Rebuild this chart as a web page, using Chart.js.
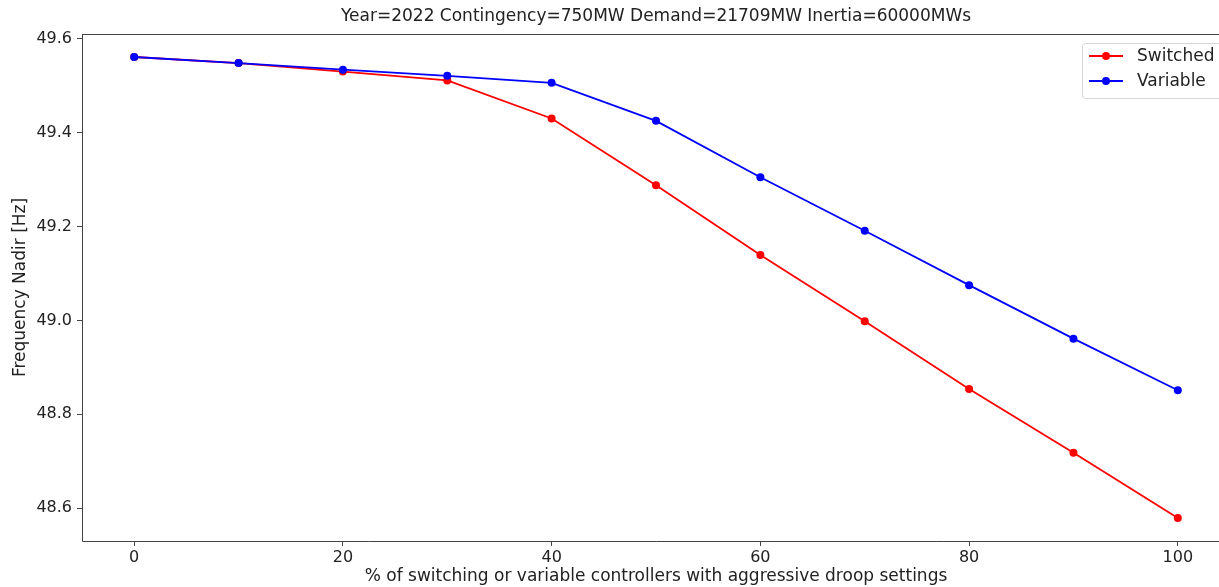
<!DOCTYPE html>
<html>
<head>
<meta charset="utf-8">
<script src="https://cdn.jsdelivr.net/npm/chart.js@4.4.1/dist/chart.umd.min.js"></script>
<style>
  html, body { margin: 0; padding: 0; background: #fff; overflow: hidden; }
  #wrap { width: 1219px; height: 587px; overflow: hidden; }
</style>
</head>
<body>
<div id="wrap"><canvas id="chart" width="1240" height="587"></canvas></div>
<script>
const xValues = [0, 10, 20, 30, 40, 50, 60, 70, 80, 90, 100];
const switched = [49.561, 49.548, 49.530, 49.511, 49.430, 49.288, 49.139, 48.998, 48.854, 48.718, 48.579];
const variable = [49.561, 49.548, 49.534, 49.521, 49.506, 49.425, 49.305, 49.191, 49.075, 48.961, 48.851];
const xTicks = [0, 20, 40, 60, 80, 100];
const yTicks = [48.6, 48.8, 49.0, 49.2, 49.4, 49.6];

const FONT = 'DejaVu Sans';
const INK = '#222';
const AXIS = '#444';

const toPoints = ys => xValues.map((x, i) => ({ x: x, y: ys[i] }));

// spines and the boxed legend, matplotlib style; the canvas is wider than
// the page so the right side of the axes is cut off like in the original
const framePlugin = {
    id: 'frame',
    afterDatasetsDraw(chart) {
        const { ctx, chartArea: a } = chart;
        ctx.save();
        ctx.strokeStyle = AXIS;
        ctx.lineWidth = 1;
        ctx.beginPath();
        ctx.moveTo(a.left, a.top + 0.5);
        ctx.lineTo(a.right, a.top + 0.5);
        ctx.moveTo(a.left + 0.5, a.top);
        ctx.lineTo(a.left + 0.5, a.bottom + 0.5);
        ctx.lineTo(a.right, a.bottom + 0.5);
        ctx.stroke();

        const bx = a.right - 148, by = a.top + 9, bw = 160, bh = 55;
        ctx.fillStyle = 'rgba(255,255,255,0.8)';
        ctx.strokeStyle = '#d6d6d6';
        ctx.beginPath();
        ctx.roundRect(bx + 0.5, by + 0.5, bw, bh, 3);
        ctx.fill();
        ctx.stroke();

        ctx.font = '17px "' + FONT + '"';
        ctx.textBaseline = 'middle';
        chart.data.datasets.forEach((ds, i) => {
            const y = by + 13 + i * 25;
            ctx.strokeStyle = ds.borderColor;
            ctx.lineWidth = 1.8;
            ctx.beginPath();
            ctx.moveTo(bx + 7, y);
            ctx.lineTo(bx + 41, y);
            ctx.stroke();
            ctx.fillStyle = ds.borderColor;
            ctx.beginPath();
            ctx.arc(bx + 24, y, 4, 0, Math.PI * 2);
            ctx.fill();
            ctx.fillStyle = INK;
            ctx.fillText(ds.label, bx + 55, y + 1);
        });
        ctx.restore();
    }
};

new Chart(document.getElementById('chart'), {
    type: 'line',
    data: {
        datasets: [{
            label: 'Switched',
            data: toPoints(switched),
            borderColor: '#ff0000',
            backgroundColor: '#ff0000',
            borderWidth: 1.8,
            pointRadius: 4,
            pointBorderWidth: 0,
            order: 1
        }, {
            label: 'Variable',
            data: toPoints(variable),
            borderColor: '#0000ff',
            backgroundColor: '#0000ff',
            borderWidth: 1.8,
            pointRadius: 4,
            pointBorderWidth: 0,
            order: 0
        }]
    },
    options: {
        responsive: false,
        animation: false,
        layout: { padding: { top: 0, left: 0, right: 10, bottom: 0 } },
        plugins: {
            legend: { display: false },
            tooltip: { enabled: false },
            title: {
                display: true,
                fullSize: false,
                text: 'Year=2022 Contingency=750MW Demand=21709MW Inertia=60000MWs',
                color: INK,
                font: { family: FONT, size: 17, weight: 'normal' },
                padding: { top: 6.6, bottom: 7 }
            }
        },
        scales: {
            x: {
                type: 'linear',
                min: -5,
                max: 105,
                afterFit: s => { s.height = 46; },
                afterBuildTicks: s => { s.ticks = xTicks.map(v => ({ value: v })); },
                ticks: { color: INK, font: { family: FONT, size: 16 }, padding: 2, maxRotation: 0 },
                grid: { drawOnChartArea: false, drawTicks: true, tickLength: 5, color: AXIS },
                border: { display: false },
                title: {
                    display: true,
                    text: '% of switching or variable controllers with aggressive droop settings',
                    color: INK,
                    font: { family: FONT, size: 17 },
                    padding: { top: 0, bottom: 0 }
                }
            },
            y: {
                type: 'linear',
                min: 48.530,
                max: 49.610,
                afterFit: s => { s.width = 82; },
                afterBuildTicks: s => { s.ticks = yTicks.map(v => ({ value: v })); },
                ticks: { color: INK, font: { family: FONT, size: 16 }, padding: 5, callback: v => v.toFixed(1) },
                grid: { drawOnChartArea: false, drawTicks: true, tickLength: 5, color: AXIS },
                border: { display: false },
                title: {
                    display: true,
                    text: 'Frequency Nadir [Hz]',
                    color: INK,
                    font: { family: FONT, size: 17 },
                    padding: { top: 10, bottom: 0 }
                }
            }
        }
    },
    plugins: [framePlugin]
});
</script>
</body>
</html>
